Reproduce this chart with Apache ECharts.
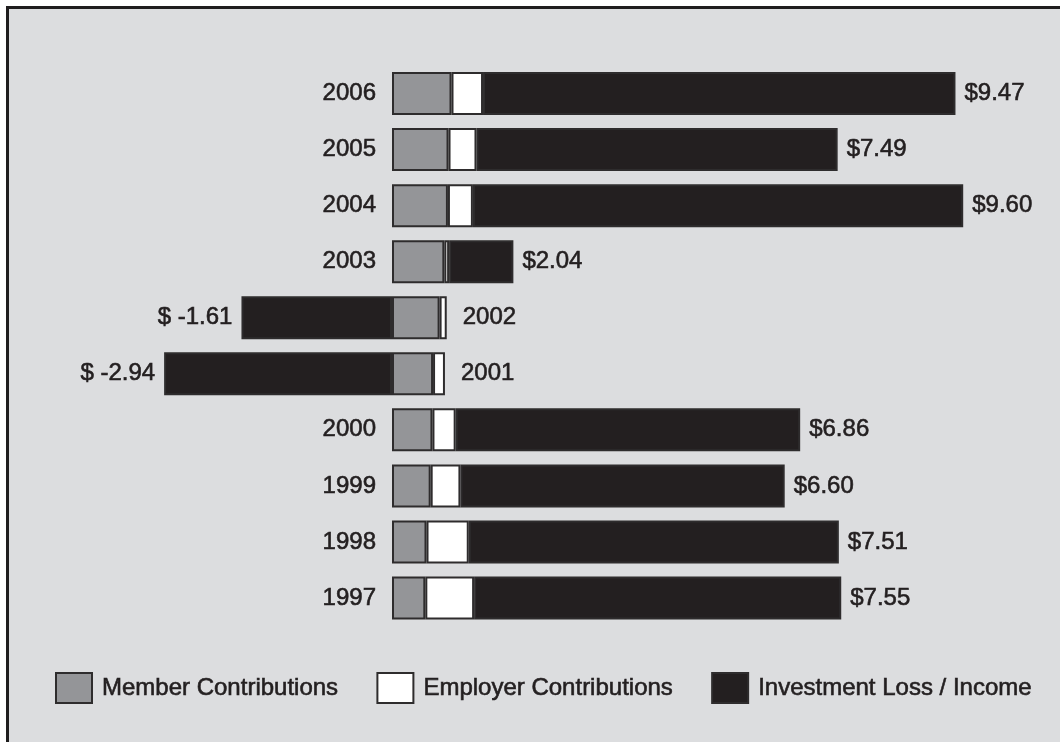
<!DOCTYPE html>
<html lang="en">
<head>
    <meta charset="UTF-8">
    <title>Contributions and Investment Income</title>
    <script src="https://cdn.jsdelivr.net/npm/echarts@6/dist/echarts.min.js"></script>
    <style>
        *{
            margin: 0;
            padding: 0;
        }
        body{
            background-color: #ffffff;
            overflow: hidden;
        }
        .frame{
            position: absolute;
            left: 6px;
            top: 6px;
            right: 0;
            bottom: 0;
            background-color: #dcdddf;
            border-top: 3px solid #1f1d1e;
            border-left: 3px solid #1f1d1e;
        }
        #main{
            position: absolute;
            left: 0;
            top: 0;
            width: 1060px;
            height: 742px;
        }
    </style>
</head>
<body>
<div class="frame"></div>
<div id="main"></div>
<script>
    // values in billions, top row first
    var years = ['2006','2005','2004','2003','2002','2001','2000','1999','1998','1997'];
    var member = [1.00, 0.95, 0.94, 0.88, 0.80, 0.69, 0.68, 0.65, 0.58, 0.56];
    var employer = [0.53, 0.47, 0.42, 0.08, 0.12, 0.20, 0.39, 0.50, 0.71, 0.82];
    var investment = [7.94, 6.07, 8.24, 1.08, -2.53, -3.83, 5.79, 5.45, 6.22, 6.17];
    var totals = [9.47, 7.49, 9.60, 2.04, -1.61, -2.94, 6.86, 6.60, 7.51, 7.55];

    var textColor = '#231f20';
    var edge = '#2e2c2d';
    var font = 'Liberation Sans, Arial, Helvetica, sans-serif';

    function totalText(v) {
        return v < 0 ? '$ ' + v.toFixed(2) : '$' + v.toFixed(2);
    }

    // year label sits left of positive bars, right of negative ones
    var memberData = [], employerData = [], investData = [];
    for (var i = 0; i < years.length; i++) {
        var neg = totals[i] < 0;
        memberData.push({
            value: member[i],
            label: {show: !neg, position: 'left', distance: 16, formatter: years[i]}
        });
        employerData.push({
            value: employer[i],
            label: {show: neg, position: 'right', distance: 16, formatter: years[i]}
        });
        investData.push({
            value: investment[i],
            label: {show: true, position: neg ? 'left' : 'right', distance: 9, formatter: totalText(totals[i])}
        });
    }

    // thin outline of the same colour makes the text a little heavier, like the print
    var labelStyle = {
        color: textColor,
        fontSize: 24,
        fontFamily: font,
        textBorderColor: textColor,
        textBorderWidth: 0.6
    };

    var myChart = echarts.init(document.getElementById('main'));

    var option = {
        animation: false,
        grid: {
            left: 154,
            right: 13.5,
            top: 65.5,
            bottom: 116
        },
        legend: {
            left: 55,
            top: 672,
            padding: 0,
            itemWidth: 36,
            itemHeight: 30,
            itemGap: 38,
            icon: 'rect',
            textStyle: {
                color: textColor,
                fontSize: 24,
                fontFamily: font,
                textBorderColor: textColor,
                textBorderWidth: 0.6,
                padding: [0, 0, 0, 5]
            },
            data: ['Member Contributions', 'Employer Contributions', 'Investment Loss / Income']
        },
        xAxis: {
            type: 'value',
            min: -4,
            max: 11,
            show: false
        },
        yAxis: {
            type: 'category',
            inverse: true,
            data: years,
            show: false
        },
        series: [
            {
                name: 'Member Contributions',
                type: 'bar',
                stack: 'total',
                barWidth: 43,
                itemStyle: {color: '#949598', borderColor: edge, borderWidth: 2},
                label: labelStyle,
                data: memberData
            },
            {
                name: 'Employer Contributions',
                type: 'bar',
                stack: 'total',
                barWidth: 43,
                itemStyle: {color: '#ffffff', borderColor: edge, borderWidth: 2},
                label: labelStyle,
                data: employerData
            },
            {
                name: 'Investment Loss / Income',
                type: 'bar',
                stack: 'total',
                barWidth: 43,
                itemStyle: {color: '#231f20', borderColor: edge, borderWidth: 2},
                label: labelStyle,
                data: investData
            }
        ]
    };

    myChart.setOption(option);
    window.onresize = myChart.resize;
</script>
</body>
</html>
